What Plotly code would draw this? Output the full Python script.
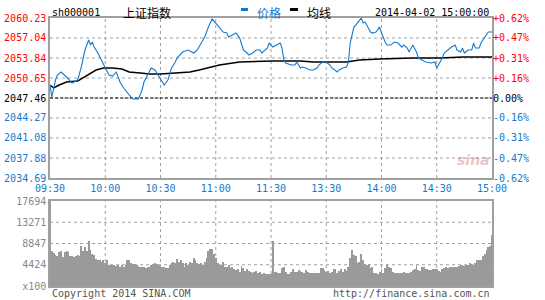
import plotly.graph_objects as go

# ---------------- data ----------------
prev_close = 2047.46
time_labels = ["09:30", "10:00", "10:30", "11:00", "11:30", "13:30", "14:00", "14:30", "15:00"]
price_ticks = [2034.69, 2037.88, 2041.08, 2044.27, 2047.46, 2050.65, 2053.84, 2057.04, 2060.23]
pct_labels = ["-0.62%", "-0.47%", "-0.31%", "-0.16%", "0.00%", "+0.16%", "+0.31%", "+0.47%", "+0.62%"]
vol_ticks = [0, 4424, 8847, 13271, 17694]
vol_labels = ["x100", "4424", "8847", "13271", "17694"]

price_min = [0, 1, 3, 4, 6, 9, 12, 13, 15, 17, 19, 21, 22, 23, 24, 26, 28, 30, 32, 34, 36, 38, 40, 43, 45,
             48, 50, 51, 53, 55, 57, 58, 61, 62, 64, 66, 68, 69, 72, 75, 77, 78, 80, 82, 84, 86, 88, 90,
             92, 94, 96, 97, 99, 101, 103, 105, 107, 108, 110, 112, 114, 115, 118, 119, 121, 123, 125,
             126, 127, 128, 131, 133, 134, 136, 137, 139, 141, 143, 145, 146, 148, 150, 152, 153, 156,
             157, 159, 161, 162, 163, 164, 165, 166, 168, 169, 170, 171, 172, 174, 175, 177, 179, 180,
             182, 183, 185, 187, 189, 191, 192, 194, 195, 197, 199, 200, 202, 204, 207, 209, 210, 211,
             213, 214, 216, 218, 220, 221, 223, 224, 225, 227, 229, 230, 231, 233, 234, 236, 238, 240]
price = [2049.53, 2047.62, 2050.33, 2051.13, 2051.61, 2050.81, 2049.85, 2050.01, 2050.33, 2052.40,
         2055.12, 2056.71, 2055.91, 2056.39, 2055.59, 2054.64, 2053.52, 2052.25, 2051.13, 2050.97,
         2051.61, 2050.01, 2049.06, 2047.94, 2047.30, 2047.30, 2048.74, 2050.01, 2051.13, 2052.25,
         2051.93, 2051.45, 2050.01, 2049.53, 2050.33, 2052.25, 2053.20, 2053.84, 2054.80, 2055.12,
         2054.80, 2054.64, 2055.12, 2056.23, 2057.19, 2058.78, 2060.06, 2059.42, 2058.78, 2057.99,
         2057.83, 2057.19, 2057.51, 2057.83, 2057.03, 2055.12, 2054.64, 2054.32, 2054.64, 2055.12,
         2055.12, 2054.64, 2055.43, 2056.23, 2055.59, 2055.91, 2056.23, 2055.43, 2053.52, 2053.04,
         2052.72, 2052.72, 2053.20, 2052.25, 2052.40, 2052.25, 2051.93, 2051.93, 2052.25, 2052.72,
         2053.20, 2053.20, 2052.72, 2052.25, 2051.61, 2051.93, 2052.25, 2052.40, 2053.20, 2056.23,
         2057.83, 2058.78, 2059.10, 2059.90, 2060.22, 2059.42, 2059.58, 2059.10, 2057.99, 2057.83,
         2057.99, 2058.78, 2057.83, 2056.39, 2055.91, 2055.91, 2056.39, 2056.23, 2055.59, 2055.91,
         2055.43, 2054.80, 2055.91, 2054.80, 2053.84, 2053.52, 2053.20, 2053.04, 2053.20, 2052.25,
         2052.72, 2053.84, 2054.64, 2055.12, 2055.59, 2055.91, 2055.12, 2054.80, 2055.43, 2054.64,
         2055.12, 2055.12, 2056.23, 2055.43, 2055.43, 2056.23, 2057.19, 2057.99, 2057.99]

avg_min = [0, 2, 5, 9, 15, 22, 25, 29, 34, 39, 43, 49, 54, 60, 69, 76, 81, 87, 92, 103, 112, 121, 136,
           143, 161, 168, 179, 197, 212, 224, 240]
avg_price = [2049.53, 2049.06, 2049.53, 2050.01, 2050.17, 2051.45, 2051.93, 2052.25, 2052.25, 2052.09,
             2051.61, 2051.45, 2051.29, 2051.29, 2051.45, 2051.61, 2051.93, 2052.40, 2052.72, 2053.20,
             2053.28, 2053.36, 2053.36, 2053.20, 2053.20, 2053.52, 2053.68, 2053.84, 2053.84, 2054.00,
             2054.00]

volume = [17694, 7340, 6850, 6500, 6290, 6990, 7340, 5940, 6990, 7200, 6990, 6290, 6150, 5940, 6290,
          6360, 6150, 8250, 7200, 8110, 7200, 9300, 7550, 6710, 6500, 5590, 5450, 5310, 5100, 5310,
          4890, 5450, 4400, 4400, 4400, 4400, 4190, 4400, 4050, 4400, 3910, 4400, 5310, 5310, 4890,
          4610, 4610, 4400, 4260, 3910, 4050, 3910, 3840, 3910, 3910, 4400, 4540, 4750, 4540, 4400,
          4050,
          4050, 3910, 3700, 3700, 4400, 4890, 5100, 4750, 5590, 5100, 5310, 4750, 4050, 4890, 4400,
          5100, 4890, 5800, 5450, 4750, 4540, 4750, 4400, 5100, 5800, 7200, 7690, 7690, 6710, 5800,
          4750, 4400, 4400, 5100, 4050, 4050, 4400, 3700, 3910, 3500, 3360, 3500, 3010, 4190, 3700,
          3220, 3500, 3220, 3010, 2800, 3010, 3220, 2660, 3010, 2520, 2800, 2520, 2520, 2520, 2520,
          9300,
          2940, 2940, 2730, 2660, 3700, 4050, 3010, 2520, 2520, 3010, 3500, 3010, 3010, 3360, 3220,
          3010, 2800, 3360, 3010, 2800, 2800, 2800, 2800, 2800, 2800, 3840, 3700, 3360, 3010, 3220,
          2800, 3010, 3500, 3500, 2800, 3220, 3500, 3010, 3500, 3220, 3910, 5800, 7410, 6500, 6290,
          4750, 4960, 6710, 5450, 4540, 4400, 4540, 3700, 3910, 2800, 2800, 2520, 3010, 3500, 2800,
          3700, 4400, 3910, 3700, 3010, 2660, 2660, 2800, 2800, 2800, 2870, 2800, 2800, 2800, 3010,
          3360, 3500, 4400, 3360, 3220, 3910, 3910, 3500, 3500, 3360, 3360, 3500, 3500, 3500, 3220,
          3010, 3500, 3700, 4050, 3700, 4050, 4050, 4050, 4050, 4050, 4190, 4400, 4400, 4190, 4400,
          4400, 4890, 4610, 4400, 4890, 5310, 5310, 5450, 6150, 6700, 7400, 8070, 8400, 10690]

# ---------------- styling ----------------
W, H = 545, 300
RED, BLUE, BLACK, GRAY = "#ff0000", "#1479cf", "#000000", "#888888"
MONO = "DejaVu Sans Mono, Noto Sans CJK SC"
FRAME = "#a0a0a0"
GRID = "#a0a0a0"

def px(x):
    return x / W

def py(y):
    return 1 - y / H

def col_for(v, ref):
    if v > ref + 1e-6:
        return RED
    if v < ref - 1e-6:
        return BLUE
    return BLACK

x_tickvals = [i * 30 for i in range(len(time_labels))]
x_lo, x_hi = x_tickvals[0], x_tickvals[-1]
left_text = [f'<span style="color:{col_for(v, prev_close)}">{v:.2f}</span>' for v in price_ticks]
right_text = [f'<span style="color:{col_for(v, prev_close)}">{t}</span>' for v, t in zip(price_ticks, pct_labels)]


def grid_xy(yvals, ylo, yhi):
    gx, gy = [], []
    for v in yvals[1:-1]:
        gx += [x_lo, x_hi, None]
        gy += [v, v, None]
    for t in x_tickvals[1:-1]:
        gx += [t, t, None]
        gy += [ylo, yhi, None]
    return gx, gy


fig = go.Figure()
# price panel grid (drawn under the lines)
pgx, pgy = grid_xy(price_ticks, price_ticks[0], price_ticks[-1])
fig.add_trace(go.Scatter(x=pgx, y=pgy, mode="lines", line=dict(color=GRID, width=1, dash="dot"),
                         showlegend=False, hoverinfo="skip", connectgaps=False))
# volume bars
fig.add_trace(go.Bar(x=list(range(len(volume))), y=volume, xaxis="x2", yaxis="y3",
                     marker=dict(color="#9a9a9a", line=dict(width=0)), width=0.5,
                     showlegend=False, hoverinfo="skip"))
# volume grid (over bars, as in the reference)
vgx, vgy = grid_xy(vol_ticks, vol_ticks[0], vol_ticks[-1])
fig.add_trace(go.Scatter(x=vgx, y=vgy, xaxis="x2", yaxis="y3", mode="lines",
                         line=dict(color=GRID, width=1, dash="dot"),
                         showlegend=False, hoverinfo="skip", connectgaps=False))
fig.add_trace(go.Scatter(x=[x_lo, x_hi], y=[prev_close, prev_close], mode="lines",
                         line=dict(color=BLACK, width=1, dash="3px,2px"), showlegend=False,
                         hoverinfo="skip"))
fig.add_trace(go.Scatter(x=avg_min, y=avg_price, mode="lines", name="均线",
                         line=dict(color=BLACK, width=1.5), showlegend=False))
fig.add_trace(go.Scatter(x=price_min, y=price, mode="lines", name="价格",
                         line=dict(color=BLUE, width=1.1), showlegend=False))
# invisible helper for right axis
fig.add_trace(go.Scatter(x=[x_lo], y=[prev_close], yaxis="y2", mode="markers",
                         marker=dict(opacity=0), showlegend=False, hoverinfo="skip"))

xdom = [px(50), px(492)]
common_x = dict(range=[x_lo, x_hi], domain=xdom, showgrid=False, zeroline=False, showline=True,
                mirror=True, linecolor=FRAME, linewidth=1.5, ticks="", tickvals=x_tickvals,
                fixedrange=True, automargin=False)

fig.update_layout(
    width=W, height=H, margin=dict(l=0, r=0, t=0, b=0),
    paper_bgcolor="white", plot_bgcolor="white",
    font=dict(family=MONO, size=10, color=BLACK),
    bargap=0,
    xaxis=dict(**common_x, anchor="y", ticktext=time_labels,
               tickfont=dict(color=BLUE, size=10, family=MONO)),
    yaxis=dict(domain=[py(178), py(18)], range=[price_ticks[0], price_ticks[-1]], anchor="x",
               tickvals=price_ticks, ticktext=left_text, showgrid=False, zeroline=False,
               showline=True, mirror=True, linecolor=FRAME, linewidth=1.5, ticks="",
               tickfont=dict(size=10, family=MONO), automargin=False),
    yaxis2=dict(overlaying="y", side="right", anchor="x", range=[price_ticks[0], price_ticks[-1]],
                tickvals=price_ticks, ticktext=right_text, showgrid=False, zeroline=False,
                showline=False, ticks="", tickfont=dict(size=10, family=MONO), automargin=False),
    xaxis2=dict(**common_x, anchor="y3", showticklabels=False),
    yaxis3=dict(domain=[py(286), py(201)], range=[0, vol_ticks[-1]], anchor="x2",
                tickvals=vol_ticks, ticktext=vol_labels, showgrid=False, zeroline=False,
                showline=True, mirror=True, linecolor=FRAME, linewidth=1.5, ticks="",
                tickfont=dict(size=10, color=GRAY, family=MONO), automargin=False),
)

ann = [
    dict(x=px(50), y=py(12), text="sh000001", xanchor="left", font=dict(size=10, color=BLACK)),
    dict(x=px(121), y=py(12), text="上证指数",
         xanchor="left", font=dict(size=12, color=BLACK, family="Noto Sans CJK SC")),
    dict(x=px(255), y=py(12), text="价格", xanchor="left",
         font=dict(size=12, color=BLUE, family="Noto Sans CJK SC")),
    dict(x=px(305), y=py(12), text="均线", xanchor="left",
         font=dict(size=12, color=BLACK, family="Noto Sans CJK SC")),
    dict(x=px(491), y=py(12), text="2014-04-02 15:00:00", xanchor="right",
         font=dict(size=10, color=BLACK)),
    dict(x=px(50), y=py(293), text="Copyright 2014 SINA.COM", xanchor="left",
         font=dict(size=10, color="#555555")),
    dict(x=px(492), y=py(293), text="http://finance.sina.com.cn", xanchor="right",
         font=dict(size=10, color="#555555")),
    dict(x=px(473), y=py(160), text="<b><i>sina</i></b>", xanchor="center",
         font=dict(size=14, color="rgba(215,120,120,0.45)", family="DejaVu Sans")),
]
for a in ann:
    a.update(xref="paper", yref="paper", showarrow=False, yanchor="middle")

shapes = [
    dict(type="rect", xref="paper", yref="paper", x0=px(241), x1=px(248), y0=py(11), y1=py(8),
         fillcolor=BLUE, line=dict(width=0)),
    dict(type="rect", xref="paper", yref="paper", x0=px(290), x1=px(298), y0=py(11), y1=py(8),
         fillcolor=BLACK, line=dict(width=0)),
]

fig.update_layout(annotations=ann, shapes=shapes)

fig.write_html("out.html")
